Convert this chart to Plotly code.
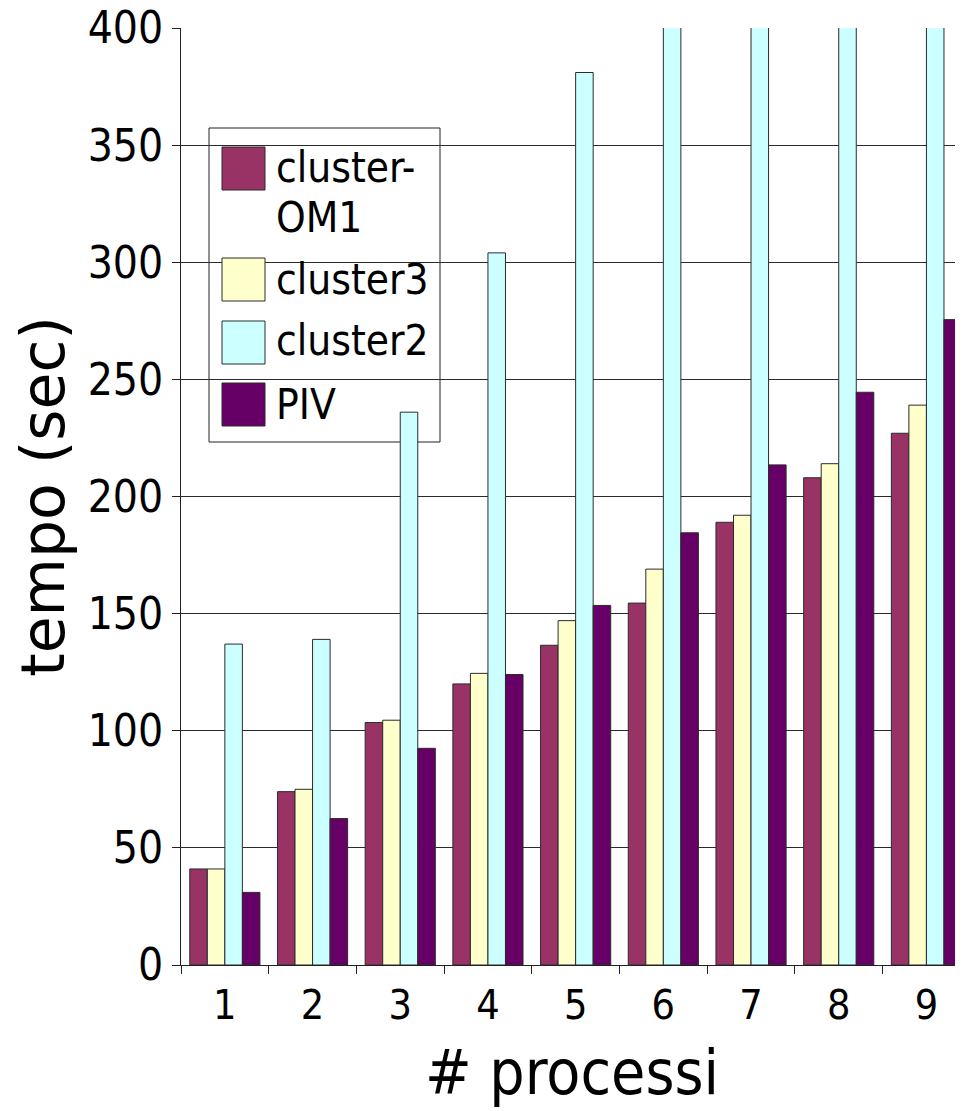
import plotly.graph_objects as go

# ---- data ----
categories = ["1", "2", "3", "4", "5", "6", "7", "8", "9"]
series_names = ["cluster-OM1", "cluster3", "cluster2", "PIV"]
cluster_om1 = [41, 74, 103.5, 120, 136.5, 154.5, 189, 208, 227]
cluster3 = [41, 75, 104.5, 124.5, 147, 169, 192, 214, 239]
cluster2 = [137, 139, 236, 304, 381, 460, 540, 620, 700]
piv = [31, 62.5, 92.5, 124, 153.5, 184.5, 213.5, 244.5, 275.5]
y_ticks = [0, 50, 100, 150, 200, 250, 300, 350, 400]

series_values = [cluster_om1, cluster3, cluster2, piv]
colors = ["#993366", "#FFFFCC", "#CCFFFF", "#660066"]

FONT = "DejaVu Sans Condensed, DejaVu Sans, sans-serif"
FONT_REG = "DejaVu Sans, sans-serif"

OFF = 8  # page body margin
W, H = 963 - OFF, 1111 - OFF
# plot area in screen pixels
L, R, T, B = 181, 963, 28, 965

fig = go.Figure()
for name, vals, col in zip(series_names, series_values, colors):
    fig.add_trace(go.Bar(
        x=categories, y=vals, name=name,
        marker=dict(color=col, line=dict(color="#2b2b2b", width=1)),
        showlegend=False,
    ))

def pxx(x):
    return (x - L) / (R - L)

def pxy(y):
    return (B - y) / (B - T)

shapes = []
annotations = []
# legend frame
shapes.append(dict(type="rect", xref="paper", yref="paper",
                   x0=pxx(209), x1=pxx(440), y0=pxy(442), y1=pxy(128),
                   line=dict(color="#222222", width=1), fillcolor="rgba(0,0,0,0)",
                   layer="below"))
sw_tops = [147, 258, 321, 383]
line_centers = [[167.5, 217.5], [279.5], [340.5], [404.5]]
for name, col, top, centers in zip(series_names, colors, sw_tops, line_centers):
    shapes.append(dict(type="rect", xref="paper", yref="paper",
                       x0=pxx(222), x1=pxx(265), y0=pxy(top + 43), y1=pxy(top),
                       line=dict(color="#2b2b2b", width=1), fillcolor=col,
                       layer="above"))
    parts = name.replace("-", "-\n").split("\n")
    for part, cy in zip(parts, centers):
        annotations.append(dict(xref="paper", yref="paper", x=pxx(274), y=pxy(cy),
                                xanchor="left", yanchor="middle", align="left",
                                text=part, showarrow=False,
                                font=dict(family=FONT, size=42, color="black")))

fig.update_layout(
    width=W, height=H, autosize=False,
    margin=dict(l=L - OFF, r=963 - R, t=T - OFF, b=1111 - B, pad=0,
                autoexpand=False),
    paper_bgcolor="white", plot_bgcolor="white",
    barmode="group", bargap=0.2, bargroupgap=0.0,
    shapes=shapes, annotations=annotations,
    font=dict(family=FONT, color="black"),
)
fig.update_xaxes(
    type="category", range=[-0.5, 8.417], automargin=False,
    showline=True, linecolor="#222222", linewidth=1,
    ticks="outside", tickson="boundaries", ticklen=8, tickcolor="#222222",
    showgrid=False, zeroline=False,
    tickfont=dict(family=FONT, size=41, color="black"),
    ticklabelstandoff=4, ticklabeloverflow="allow",
    title=dict(text="# processi", font=dict(family=FONT, size=62, color="black"),
               standoff=22),
)
fig.update_yaxes(
    range=[0, 400], tickvals=y_ticks, automargin=False,
    showline=True, linecolor="#222222", linewidth=1,
    ticks="outside", ticklen=8, tickcolor="#222222",
    showgrid=True, gridcolor="#2b2b2b", gridwidth=1, zeroline=False,
    tickfont=dict(family=FONT, size=44, color="black"),
    ticklabeloverflow="allow",
    title=dict(text="tempo (sec)", font=dict(family=FONT_REG, size=60, color="black"),
               standoff=18),
)

fig.write_html("out.html")
